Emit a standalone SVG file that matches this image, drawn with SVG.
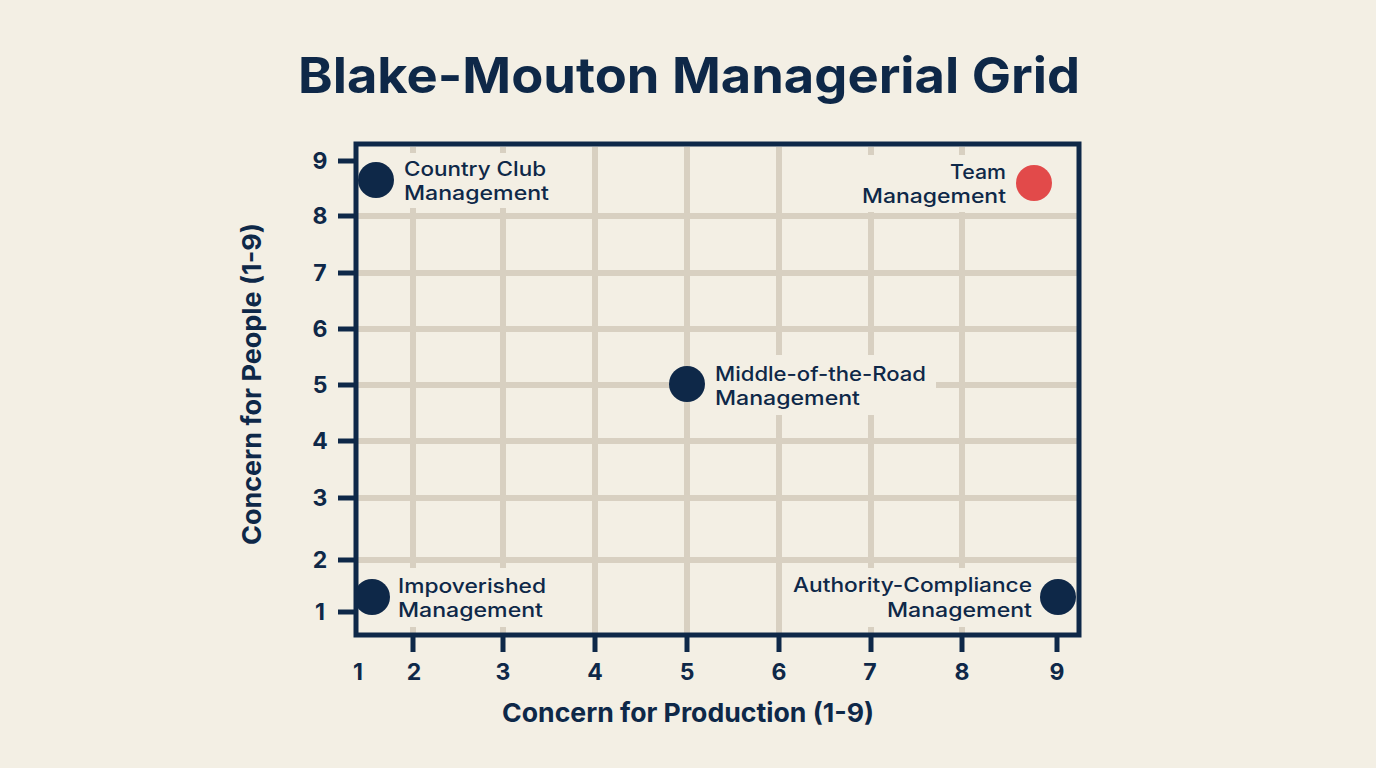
<svg xmlns="http://www.w3.org/2000/svg" width="1376" height="768" viewBox="0 0 1376 768">
  <style>
    .bg { fill: #f3efe4; }
    .grid line { stroke: #d8d0c1; stroke-width: 6; }
    .frame { fill: none; stroke: #0e2848; stroke-width: 5; }
    .tick { stroke: #0e2848; stroke-width: 5; }
    .num { font-family: Inter, "Open Sans", "Liberation Sans", sans-serif; font-weight: 700; font-size: 23px; fill: #0e2848; text-anchor: middle; }
    .title { font-family: Inter, "Open Sans", "Liberation Sans", sans-serif; font-weight: 700; font-size: 50px; fill: #0e2848; text-anchor: middle; }
    .axis { font-family: Inter, "Open Sans", "Liberation Sans", sans-serif; font-weight: 700; font-size: 26px; fill: #0e2848; text-anchor: middle; }
    .lbl { font-family: Inter, "Open Sans", "Liberation Sans", sans-serif; font-weight: 500; font-size: 20px; fill: #0e2848; }
    .dot { fill: #0e2848; }
    .red { fill: #e24a4a; }
  </style>
  <rect class="bg" x="0" y="0" width="1376" height="768"/>

  <text class="title" x="689" y="93" textLength="782" lengthAdjust="spacingAndGlyphs">Blake-Mouton Managerial Grid</text>

  <g id="grid" class="grid">
    <line x1="413" y1="147" x2="413" y2="153"/>
    <line x1="413" y1="208" x2="413" y2="568"/>
    <line x1="413" y1="627" x2="413" y2="633"/>
    <line x1="503" y1="147" x2="503" y2="153"/>
    <line x1="503" y1="208" x2="503" y2="568"/>
    <line x1="503" y1="627" x2="503" y2="633"/>
    <line x1="595" y1="147" x2="595" y2="633"/>
    <line x1="687" y1="147" x2="687" y2="633"/>
    <line x1="779" y1="147" x2="779" y2="355"/>
    <line x1="779" y1="415" x2="779" y2="633"/>
    <line x1="871" y1="147" x2="871" y2="155"/>
    <line x1="871" y1="212" x2="871" y2="355"/>
    <line x1="871" y1="415" x2="871" y2="568"/>
    <line x1="871" y1="627" x2="871" y2="633"/>
    <line x1="962" y1="147" x2="962" y2="155"/>
    <line x1="962" y1="212" x2="962" y2="568"/>
    <line x1="962" y1="627" x2="962" y2="633"/>
    <line x1="358" y1="216" x2="1077" y2="216"/>
    <line x1="358" y1="273" x2="1077" y2="273"/>
    <line x1="358" y1="329" x2="1077" y2="329"/>
    <line x1="358" y1="385" x2="687" y2="385"/>
    <line x1="936" y1="385" x2="1077" y2="385"/>
    <line x1="358" y1="441" x2="1077" y2="441"/>
    <line x1="358" y1="498" x2="1077" y2="498"/>
    <line x1="358" y1="560" x2="1077" y2="560"/>
  </g>

  <g id="axes">
    <rect class="frame" x="356" y="144" width="723" height="491"/>
    <line class="tick" x1="338" y1="161" x2="356" y2="161"/>
    <line class="tick" x1="338" y1="216" x2="356" y2="216"/>
    <line class="tick" x1="338" y1="273" x2="356" y2="273"/>
    <line class="tick" x1="338" y1="329" x2="356" y2="329"/>
    <line class="tick" x1="338" y1="385" x2="356" y2="385"/>
    <line class="tick" x1="338" y1="441" x2="356" y2="441"/>
    <line class="tick" x1="338" y1="498" x2="356" y2="498"/>
    <line class="tick" x1="338" y1="560" x2="356" y2="560"/>
    <line class="tick" x1="338" y1="612" x2="356" y2="612"/>
    <line class="tick" x1="413" y1="635" x2="413" y2="652"/>
    <line class="tick" x1="503" y1="635" x2="503" y2="652"/>
    <line class="tick" x1="595" y1="635" x2="595" y2="652"/>
    <line class="tick" x1="687" y1="635" x2="687" y2="652"/>
    <line class="tick" x1="779" y1="635" x2="779" y2="652"/>
    <line class="tick" x1="871" y1="635" x2="871" y2="652"/>
    <line class="tick" x1="962" y1="635" x2="962" y2="652"/>
    <line class="tick" x1="1057" y1="635" x2="1057" y2="652"/>

    <text class="num" x="320" y="169">9</text>
    <text class="num" x="320" y="224">8</text>
    <text class="num" x="320" y="281">7</text>
    <text class="num" x="320" y="337">6</text>
    <text class="num" x="320" y="393">5</text>
    <text class="num" x="320" y="449">4</text>
    <text class="num" x="320" y="506">3</text>
    <text class="num" x="320" y="568">2</text>
    <text class="num" x="320" y="620">1</text>

    <text class="num" x="358" y="680">1</text>
    <text class="num" x="414" y="680">2</text>
    <text class="num" x="503" y="680">3</text>
    <text class="num" x="595" y="680">4</text>
    <text class="num" x="687" y="680">5</text>
    <text class="num" x="779" y="680">6</text>
    <text class="num" x="870" y="680">7</text>
    <text class="num" x="962" y="680">8</text>
    <text class="num" x="1057" y="680">9</text>

    <text class="axis" x="688" y="722" textLength="372" lengthAdjust="spacingAndGlyphs">Concern for Production (1-9)</text>
    <text class="axis" transform="translate(261 384) rotate(-90)" x="0" y="0" textLength="322" lengthAdjust="spacingAndGlyphs">Concern for People (1-9)</text>
  </g>

  <g id="country-club">
    <circle class="dot" cx="376" cy="180" r="18"/>
    <text class="lbl" x="404" y="176" textLength="142" lengthAdjust="spacingAndGlyphs">Country Club</text>
    <text class="lbl" x="404" y="200" textLength="145" lengthAdjust="spacingAndGlyphs">Management</text>
  </g>

  <g id="team">
    <circle class="red" cx="1034" cy="183" r="18"/>
    <text class="lbl" x="1006" y="179" text-anchor="end" textLength="56" lengthAdjust="spacingAndGlyphs">Team</text>
    <text class="lbl" x="1006" y="203" text-anchor="end" textLength="144" lengthAdjust="spacingAndGlyphs">Management</text>
  </g>

  <g id="middle-of-the-road">
    <circle class="dot" cx="687" cy="384" r="18"/>
    <text class="lbl" x="715" y="381" textLength="211" lengthAdjust="spacingAndGlyphs">Middle-of-the-Road</text>
    <text class="lbl" x="715" y="405" textLength="145" lengthAdjust="spacingAndGlyphs">Management</text>
  </g>

  <g id="impoverished">
    <circle class="dot" cx="372" cy="597" r="18"/>
    <text class="lbl" x="398" y="593" textLength="148" lengthAdjust="spacingAndGlyphs">Impoverished</text>
    <text class="lbl" x="398" y="617" textLength="145" lengthAdjust="spacingAndGlyphs">Management</text>
  </g>

  <g id="authority-compliance">
    <circle class="dot" cx="1058" cy="597" r="18"/>
    <text class="lbl" x="1032" y="592" text-anchor="end" textLength="239" lengthAdjust="spacingAndGlyphs">Authority-Compliance</text>
    <text class="lbl" x="1032" y="617" text-anchor="end" textLength="145" lengthAdjust="spacingAndGlyphs">Management</text>
  </g>
</svg>
